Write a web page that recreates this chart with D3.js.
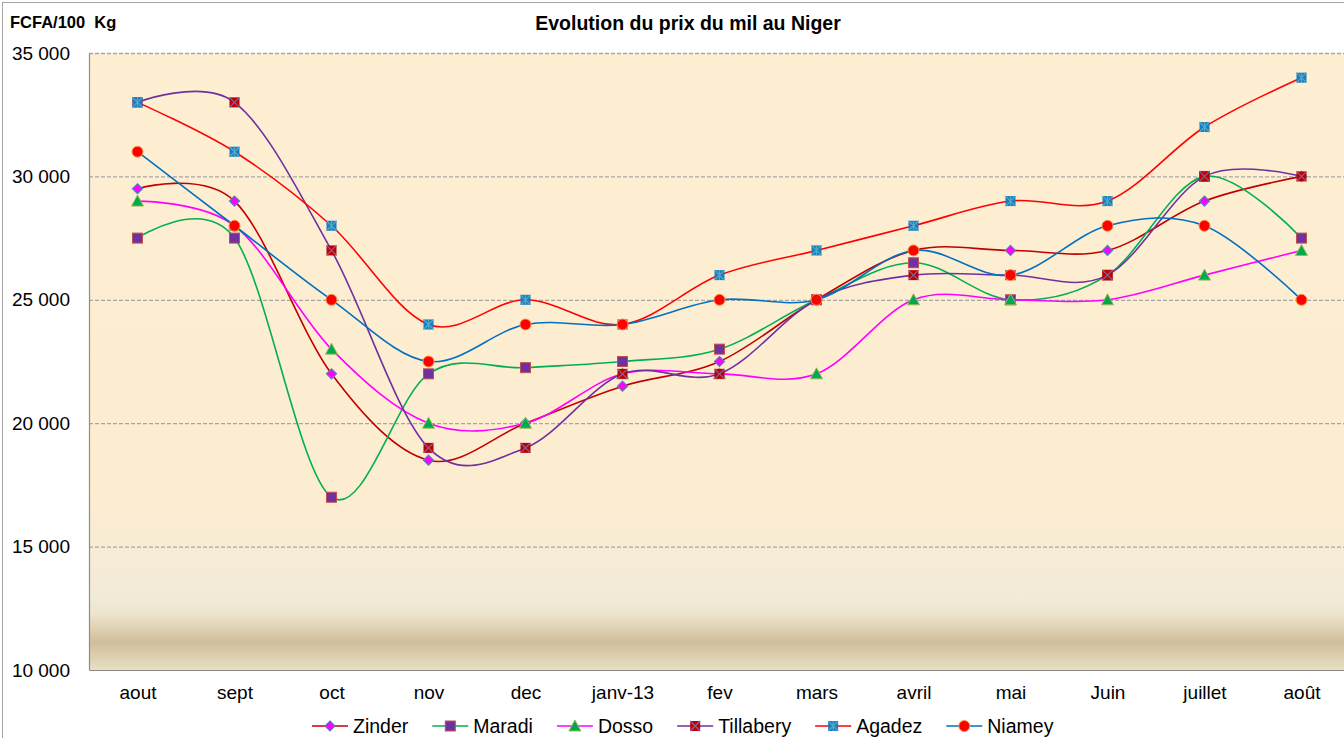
<!DOCTYPE html>
<html>
<head>
<meta charset="utf-8">
<script src="https://cdn.jsdelivr.net/npm/d3@7"></script>
<style>
  body { margin: 0; background: #fff; }
  svg { display: block; font-family: "Liberation Sans", Arial, sans-serif; }
</style>
</head>
<body>
<svg id="chart" width="1344" height="738"></svg>
<script>
// categories + series values (FCFA / 100 kg)
const months = ["aout", "sept", "oct", "nov", "dec", "janv-13", "fev", "mars", "avril", "mai", "Juin", "juillet", "août"];
const zinder    = [29500, 29000, 22000, 18500, 20000, 21500, 22500, 25000, 27000, 27000, 27000, 29000, 30000];
const maradi    = [27500, 27500, 17000, 22000, 22250, 22500, 23000, 25000, 26500, 25000, 26000, 30000, 27500];
const dosso     = [29000, 28000, 23000, 20000, 20000, 22000, 22000, 22000, 25000, 25000, 25000, 26000, 27000];
const tillabery = [33000, 33000, 27000, 19000, 19000, 22000, 22000, 25000, 26000, 26000, 26000, 30000, 30000];
const agadez    = [33000, 31000, 28000, 24000, 25000, 24000, 26000, 27000, 28000, 29000, 29000, 32000, 34000];
const niamey    = [31000, 28000, 25000, 22500, 24000, 24000, 25000, 25000, 27000, 26000, 28000, 28000, 25000];
const yTicks = [10000, 15000, 20000, 25000, 30000, 35000];

const seriesNames = ["Zinder", "Maradi", "Dosso", "Tillabery", "Agadez", "Niamey"];
const seriesValues = [zinder, maradi, dosso, tillabery, agadez, niamey];

// line colour + marker style per series
const styles = [
  { line: "#C00000", marker: "diamond" },
  { line: "#00B050", marker: "square" },
  { line: "#FF00FF", marker: "triangle" },
  { line: "#7030A0", marker: "xsquare" },
  { line: "#FF0000", marker: "star" },
  { line: "#0070C0", marker: "circle" }
];

const svg = d3.select("#chart");
const plot = { left: 89, right: 1350, top: 53, bottom: 670 };

const x = d3.scalePoint().domain(months).range([plot.left, plot.right]).padding(0.5);
const y = d3.scaleLinear().domain([10000, 35000]).range([plot.bottom, plot.top]);

// background gradient of the plot area
const defs = svg.append("defs");
const grad = defs.append("linearGradient")
    .attr("id", "bg").attr("x1", 0).attr("y1", 0).attr("x2", 0).attr("y2", 1);
[[0, "#FEEFD2"], [0.72, "#FDEDD0"], [0.88, "#F2EBD9"], [0.91, "#EDE4CE"], [0.955, "#CFBE9A"], [1, "#EADFC4"]]
  .forEach(s => grad.append("stop").attr("offset", s[0]).attr("stop-color", s[1]));

// outer chart border
svg.append("rect")
    .attr("x", 2.5).attr("y", 2.5).attr("width", 1400).attr("height", 800)
    .attr("fill", "#fff").attr("stroke", "#A6A6A6");

svg.append("rect")
    .attr("x", plot.left).attr("y", plot.top)
    .attr("width", plot.right - plot.left).attr("height", plot.bottom - plot.top)
    .attr("fill", "url(#bg)");

// gridlines
svg.append("g").selectAll("line")
    .data(yTicks.filter(d => d > 10000))
    .join("line")
    .attr("x1", plot.left).attr("x2", plot.right)
    .attr("y1", d => y(d) + 0.5).attr("y2", d => y(d) + 0.5)
    .attr("stroke", "#A6A6A6").attr("stroke-width", 1.3)
    .attr("stroke-dasharray", "4,2");

// axes
const yAxis = svg.append("g")
    .attr("transform", `translate(${plot.left},0)`)
    .call(d3.axisLeft(y).tickValues(yTicks).tickSize(0).tickPadding(19)
        .tickFormat(d => d3.format(",")(d).replace(",", " ")));
yAxis.select(".domain").attr("stroke", "#8C8C8C").attr("stroke-width", 1.2);
yAxis.selectAll("text").attr("font-size", 19).attr("fill", "#000")
    .attr("font-family", "'Liberation Sans', Arial, sans-serif");

const xAxis = svg.append("g")
    .attr("transform", `translate(0,${plot.bottom})`)
    .call(d3.axisBottom(x).tickSize(0).tickPadding(16));
xAxis.select(".domain").attr("stroke", "#8C8C8C").attr("stroke-width", 1.2);
xAxis.selectAll("text").attr("font-size", 19).attr("fill", "#000")
    .attr("font-family", "'Liberation Sans', Arial, sans-serif");

// titles
svg.append("text")
    .attr("x", 688).attr("y", 30).attr("text-anchor", "middle")
    .attr("font-size", 19.5).attr("font-weight", "bold")
    .text("Evolution du prix du mil au Niger");

svg.append("text")
    .attr("x", 10).attr("y", 28)
    .attr("font-size", 16.5).attr("font-weight", "bold")
    .attr("xml:space", "preserve")
    .text("FCFA/100  Kg");

// markers
function drawMarker(g, type, cx, cy) {
  if (type === "diamond") {
    g.append("path")
        .attr("d", `M${cx},${cy - 5}L${cx + 5},${cy}L${cx},${cy + 5}L${cx - 5},${cy}Z`)
        .attr("fill", "#FF00FF").attr("stroke", "#4F81BD").attr("stroke-width", 1.2);
  } else if (type === "square") {
    g.append("rect")
        .attr("x", cx - 5).attr("y", cy - 5).attr("width", 10).attr("height", 10)
        .attr("fill", "#7030A0").attr("stroke", "#C0504D").attr("stroke-width", 1);
  } else if (type === "triangle") {
    g.append("path")
        .attr("d", `M${cx},${cy - 6}L${cx + 6},${cy + 5}L${cx - 6},${cy + 5}Z`)
        .attr("fill", "#00A84F").attr("stroke", "#9BBB59").attr("stroke-width", 1);
  } else if (type === "xsquare") {
    g.append("rect")
        .attr("x", cx - 5).attr("y", cy - 5).attr("width", 10).attr("height", 10)
        .attr("fill", "#C00000");
    g.append("path")
        .attr("d", `M${cx - 5},${cy - 5}L${cx + 5},${cy + 5}M${cx + 5},${cy - 5}L${cx - 5},${cy + 5}`)
        .attr("stroke", "#8064A2").attr("stroke-width", 1.2);
  } else if (type === "star") {
    g.append("rect")
        .attr("x", cx - 5).attr("y", cy - 5).attr("width", 10).attr("height", 10)
        .attr("fill", "#1F7BC0");
    g.append("path")
        .attr("d", `M${cx - 5},${cy - 5}L${cx + 5},${cy + 5}M${cx + 5},${cy - 5}L${cx - 5},${cy + 5}M${cx},${cy - 5}L${cx},${cy + 5}`)
        .attr("stroke", "#4BACC6").attr("stroke-width", 1.2);
  } else if (type === "circle") {
    g.append("circle")
        .attr("cx", cx).attr("cy", cy).attr("r", 5.5)
        .attr("fill", "#FF0000").attr("stroke", "#F79646").attr("stroke-width", 1);
  }
}

const line = d3.line()
    .x((d, i) => x(months[i]))
    .y(d => y(d))
    .curve(d3.curveCardinal.tension(0));

// series (later series drawn on top)
seriesValues.forEach((vals, si) => {
  const g = svg.append("g").attr("class", "series");
  g.append("path")
      .attr("d", line(vals))
      .attr("fill", "none")
      .attr("stroke", styles[si].line)
      .attr("stroke-width", 1.6);
  vals.forEach((v, i) => drawMarker(g, styles[si].marker, x(months[i]), y(v)));
});

// legend
const legend = svg.append("g");
let lx = 312;
const ly = 726;
seriesNames.forEach((name, si) => {
  const g = legend.append("g");
  g.append("line")
      .attr("x1", lx).attr("x2", lx + 36).attr("y1", ly).attr("y2", ly)
      .attr("stroke", styles[si].line).attr("stroke-width", 1.6);
  drawMarker(g, styles[si].marker, lx + 18, ly);
  const t = g.append("text")
      .attr("x", lx + 41).attr("y", ly + 7)
      .attr("font-size", 19.5)
      .text(name);
  lx += 41 + t.node().getComputedTextLength() + 24;
});
</script>
</body>
</html>
